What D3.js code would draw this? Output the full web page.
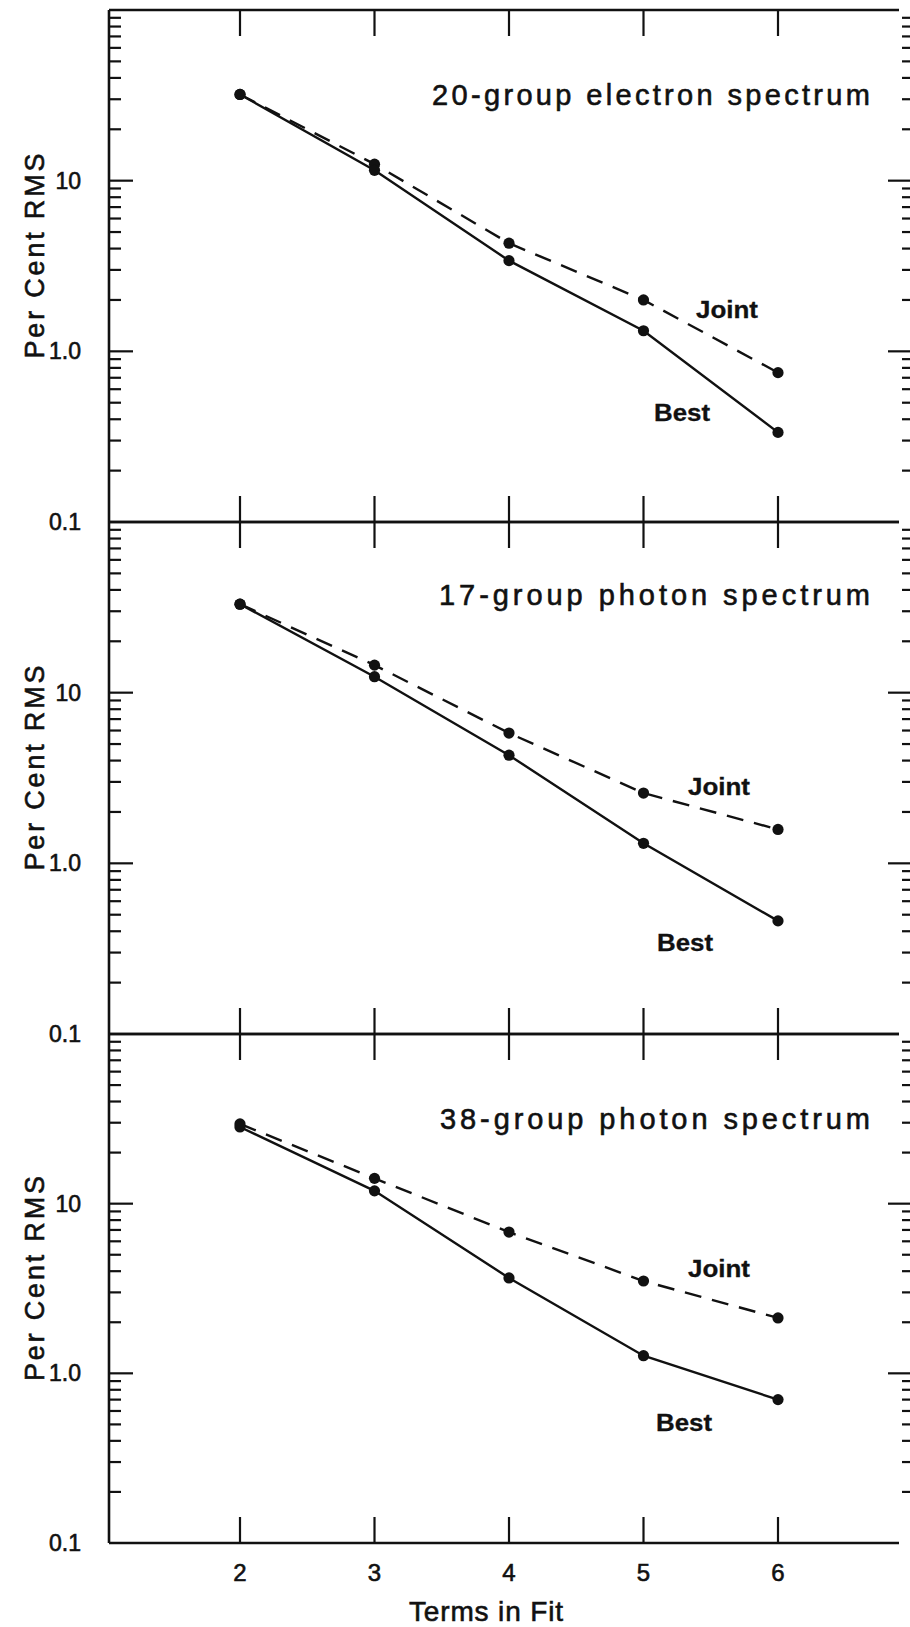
<!DOCTYPE html>
<html>
<head>
<meta charset="utf-8">
<script src="https://cdn.jsdelivr.net/npm/d3@7"></script>
<style>
  html, body { margin: 0; padding: 0; background: #fff; }
  svg { display: block; }
  text { font-family: "Liberation Sans", Arial, Helvetica, sans-serif; fill: #111; stroke: #111; stroke-width: 0.6; }
  text.bold { stroke-width: 0.3; }
</style>
</head>
<body>
<svg id="chart" width="910" height="1627"></svg>
<script>
// Number of terms kept in the fit
const terms = [2, 3, 4, 5, 6];
const termLabels = ["2", "3", "4", "5", "6"];

// Panel titles
const panelTitles = [
  "20-group electron spectrum",
  "17-group photon spectrum",
  "38-group photon spectrum"
];

// Per cent RMS error, best fit vs joint fit
const electron20Best  = [32, 11.5, 3.4, 1.32, 0.335];
const electron20Joint = [32, 12.5, 4.3, 2.0, 0.75];
const photon17Best    = [33, 12.4, 4.3, 1.31, 0.46];
const photon17Joint   = [33, 14.5, 5.8, 2.58, 1.58];
const photon38Best    = [28.3, 11.9, 3.65, 1.27, 0.70];
const photon38Joint   = [29.5, 14.1, 6.8, 3.5, 2.12];

// Labelled y ticks
const yTickValues = [0.1, 1, 10];
const yTickLabels = ["0.1", "1.0", "10"];

const bestSeries  = [electron20Best, photon17Best, photon38Best];
const jointSeries = [electron20Joint, photon17Joint, photon38Joint];

// ---- layout ----
const svg = d3.select("#chart");
const ink = "#111";
const axisLeft = 109;
const frameRight = 899;
const rightEdge = 910;
const panelEdges = [10, 522, 1034, 1543];
const titleBaseline = [95, 83, 95];
const titleWidth = [438, 431, 430];
const jointPos = [[696, 308], [688, 273], [688, 243]];
const bestPos  = [[654, 411], [657, 429], [656, 397]];

const x = d3.scaleLinear().domain([2, 6]).range([240, 778]);

// left spine spanning all three panels
svg.append("line")
  .attr("x1", axisLeft).attr("x2", axisLeft)
  .attr("y1", panelEdges[0]).attr("y2", panelEdges[3])
  .attr("stroke", ink).attr("stroke-width", 2.6);

panelTitles.forEach((title, i) => {
  const top = panelEdges[i], bottom = panelEdges[i + 1];
  const y = d3.scaleLog().domain([0.1, 100]).range([bottom, top]);
  const g = svg.append("g");

  // horizontal frame lines
  [top, bottom].forEach(yy => {
    g.append("line")
      .attr("x1", axisLeft).attr("x2", frameRight)
      .attr("y1", yy).attr("y2", yy)
      .attr("stroke", ink).attr("stroke-width", 2.6);
  });

  // minor and major log ticks on both sides
  const logTicks = y.ticks(30).filter(v => v > 0.1 && v < 100);
  logTicks.forEach(v => {
    const major = Math.abs(Math.log10(v) - Math.round(Math.log10(v))) < 1e-9;
    g.append("line")
      .attr("x1", axisLeft).attr("x2", axisLeft + (major ? 24 : 12))
      .attr("y1", y(v)).attr("y2", y(v))
      .attr("stroke", ink).attr("stroke-width", 2.2);
    g.append("line")
      .attr("x1", rightEdge).attr("x2", rightEdge - (major ? 22 : 8))
      .attr("y1", y(v)).attr("y2", y(v))
      .attr("stroke", ink).attr("stroke-width", 2.2);
  });

  // tick labels on the y axis
  yTickValues.forEach((v, k) => {
    g.append("text")
      .attr("x", 81).attr("y", y(v))
      .attr("text-anchor", "end")
      .attr("dominant-baseline", "central")
      .attr("font-size", 23)
      .text(yTickLabels[k]);
  });

  // x ticks at top and bottom of the panel
  terms.forEach(t => {
    g.append("line")
      .attr("x1", x(t)).attr("x2", x(t))
      .attr("y1", top).attr("y2", top + 26)
      .attr("stroke", ink).attr("stroke-width", 2.2);
    g.append("line")
      .attr("x1", x(t)).attr("x2", x(t))
      .attr("y1", bottom).attr("y2", bottom - 26)
      .attr("stroke", ink).attr("stroke-width", 2.2);
  });

  // y axis title
  g.append("text")
    .attr("transform", `translate(44,${(top + bottom) / 2 - 10}) rotate(-90)`)
    .attr("text-anchor", "middle")
    .attr("font-size", 27)
    .attr("textLength", 205)
    .attr("lengthAdjust", "spacing")
    .text("Per Cent  RMS");

  // panel title
  g.append("text")
    .attr("x", 870 - titleWidth[i]).attr("y", top + titleBaseline[i])
    .attr("font-size", 29)
    .attr("textLength", titleWidth[i])
    .attr("lengthAdjust", "spacing")
    .text(title);

  const line = d3.line().x((d, k) => x(terms[k])).y(d => y(d));

  // joint fit: dashed
  g.append("path")
    .datum(jointSeries[i])
    .attr("d", line)
    .attr("fill", "none").attr("stroke", ink)
    .attr("stroke-width", 2.4)
    .attr("stroke-dasharray", "17,11");

  // best fit: solid
  g.append("path")
    .datum(bestSeries[i])
    .attr("d", line)
    .attr("fill", "none").attr("stroke", ink)
    .attr("stroke-width", 2.4);

  [jointSeries[i], bestSeries[i]].forEach(series => {
    g.selectAll(null).data(series).enter().append("circle")
      .attr("cx", (d, k) => x(terms[k]))
      .attr("cy", d => y(d))
      .attr("r", 5.6)
      .attr("fill", ink);
  });

  g.append("text").attr("class", "bold")
    .attr("x", jointPos[i][0]).attr("y", top + jointPos[i][1])
    .attr("font-size", 23).attr("font-weight", "bold")
    .attr("textLength", 62).attr("lengthAdjust", "spacingAndGlyphs")
    .text("Joint");
  g.append("text").attr("class", "bold")
    .attr("x", bestPos[i][0]).attr("y", top + bestPos[i][1])
    .attr("font-size", 23).attr("font-weight", "bold")
    .attr("textLength", 56).attr("lengthAdjust", "spacingAndGlyphs")
    .text("Best");
});

// x axis tick labels and title under the bottom panel
terms.forEach((t, k) => {
  svg.append("text")
    .attr("x", x(t)).attr("y", 1581)
    .attr("text-anchor", "middle")
    .attr("font-size", 24)
    .text(termLabels[k]);
});

svg.append("text")
  .attr("x", 486).attr("y", 1621)
  .attr("text-anchor", "middle")
  .attr("font-size", 28)
  .attr("textLength", 154)
  .attr("lengthAdjust", "spacing")
  .text("Terms in Fit");
</script>
</body>
</html>
